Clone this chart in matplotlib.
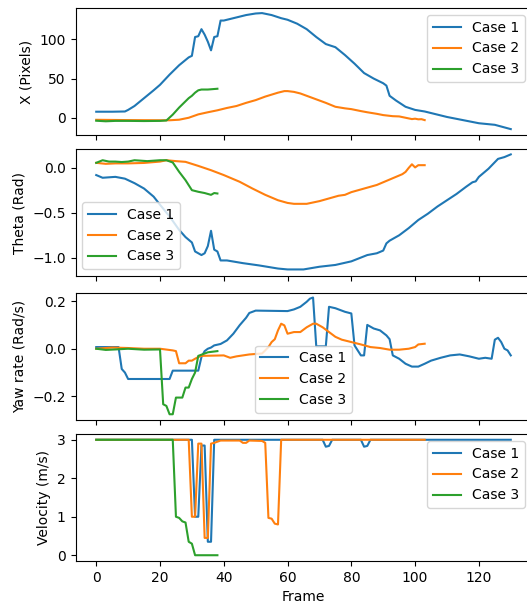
import matplotlib
matplotlib.use("Agg")
import matplotlib.pyplot as plt

labels = ["Case 1", "Case 2", "Case 3"]

# ---- X (Pixels) ----
x_c1_f = [0, 5, 9, 10, 12, 15, 18, 20, 23, 26, 29, 30, 31, 32, 33, 34, 35, 36, 37, 38, 39, 40, 42, 44, 47, 50, 52, 55, 58, 60, 63, 66, 69, 72, 75, 78, 81, 84, 87, 90, 91, 92, 94, 97, 100, 103, 106, 110, 115, 120, 125, 130]
x_c1_v = [7.7, 7.7, 8, 10, 15, 25, 35, 42, 55, 67, 77, 79, 103, 104, 113, 106, 97, 86, 103, 104, 124, 124, 126, 128, 131, 133, 133.5, 131, 127, 125, 120, 113, 103, 94, 90, 80, 69, 57, 50, 44, 41, 28, 22, 14, 10, 8, 5, 1, -3, -7, -9, -14.5]
x_c2_f = [0, 10, 20, 23, 26, 29, 32, 35, 38, 41, 44, 47, 50, 53, 55, 57, 59, 60, 62, 64, 66, 68, 70, 72, 75, 78, 80, 83, 85, 88, 90, 93, 95, 97, 99, 100, 101, 102, 103]
x_c2_v = [-2.6, -3, -3.2, -3.2, -2.5, 0, 4.3, 7, 9.5, 12.5, 15, 19, 22.5, 27, 29.5, 32, 34, 34, 33, 31, 28, 25, 22, 19, 14, 12, 11, 8.5, 7, 5, 3.4, 2, 1.7, 0, -1.7, -1.2, -2, -1.8, -3]
x_c3_f = [0, 3, 6, 10, 15, 20, 22, 24, 26, 28, 29, 30, 31, 32, 33, 35, 38]
x_c3_v = [-3.8, -4.5, -4, -4, -4.2, -4, -3.5, 4, 13, 21, 25, 28, 32, 35, 36, 36, 37]

# ---- Theta (Rad) ----
t_c1_f = [0, 2, 6, 9, 12, 15, 18, 20, 23, 26, 28, 30, 31, 33, 34, 35, 36, 37, 38, 39, 41, 46, 51, 57, 60, 65, 70, 75, 80, 85, 88, 90, 91, 92, 95, 98, 101, 104, 107, 110, 113, 116, 118, 119, 120, 123, 126, 128, 130]
t_c1_v = [-0.08, -0.11, -0.10, -0.12, -0.17, -0.23, -0.32, -0.41, -0.54, -0.69, -0.77, -0.83, -0.93, -0.97, -0.95, -0.87, -0.70, -0.91, -0.93, -1.03, -1.03, -1.06, -1.085, -1.12, -1.13, -1.13, -1.10, -1.08, -1.04, -0.97, -0.95, -0.92, -0.84, -0.81, -0.75, -0.67, -0.58, -0.51, -0.43, -0.36, -0.29, -0.21, -0.16, -0.15, -0.10, -0.01, 0.10, 0.12, 0.15]
t_c2_f = [0, 3, 6, 10, 15, 20, 22, 25, 28, 32, 36, 40, 45, 49, 53, 57, 60, 62, 64, 66, 68, 70, 72, 74, 76, 78, 80, 82, 84, 86, 88, 90, 92, 94, 96, 97, 98, 99, 100, 101, 103]
t_c2_v = [0.056, 0.045, 0.05, 0.05, 0.055, 0.07, 0.085, 0.075, 0.067, 0.022, -0.026, -0.08, -0.155, -0.23, -0.30, -0.36, -0.39, -0.40, -0.40, -0.40, -0.385, -0.37, -0.35, -0.33, -0.31, -0.30, -0.27, -0.25, -0.23, -0.21, -0.19, -0.16, -0.13, -0.10, -0.07, -0.045, 0.0, 0.04, 0.005, 0.03, 0.03]
t_c3_f = [0, 2, 4, 6, 8, 10, 12, 14, 16, 18, 20, 22, 24, 26, 28, 30, 32, 34, 36, 37, 38]
t_c3_v = [0.056, 0.085, 0.07, 0.07, 0.065, 0.07, 0.085, 0.08, 0.075, 0.08, 0.085, 0.085, 0.06, -0.044, -0.137, -0.248, -0.266, -0.28, -0.30, -0.28, -0.285]

# ---- Yaw rate (Rad/s) ----
y_c1_f = [0, 7, 8, 9, 10, 23, 24, 32, 33, 34, 35, 36, 37, 39, 41, 43, 45, 47, 48, 50, 60, 62, 64, 66, 67, 68, 69, 72, 73, 75, 78, 80, 81, 82, 83, 84, 85, 87, 89, 91, 92, 93, 95, 97, 99, 101, 103, 105, 108, 111, 114, 117, 120, 122, 124, 125, 126, 127, 128, 129, 130]
y_c1_v = [0.007, 0.007, -0.085, -0.10, -0.127, -0.127, -0.092, -0.092, -0.035, -0.01, 0.0, 0.005, 0.014, 0.02, 0.035, 0.063, 0.099, 0.13, 0.15, 0.16, 0.158, 0.165, 0.176, 0.197, 0.21, 0.215, 0.01, 0.01, 0.176, 0.17, 0.155, 0.148, 0.014, -0.007, -0.028, -0.028, 0.10, 0.085, 0.077, 0.056, 0.04, -0.028, -0.042, -0.063, -0.075, -0.075, -0.063, -0.05, -0.038, -0.028, -0.024, -0.032, -0.042, -0.038, -0.042, 0.038, 0.046, 0.028, 0.0, -0.007, -0.028]
y_c2_f = [0, 5, 10, 15, 20, 24, 25, 26, 28, 29, 30, 31, 32, 33, 40, 42, 44, 46, 48, 52, 53, 54, 55, 56, 57, 58, 59, 60, 62, 64, 66, 68, 69, 71, 73, 75, 77, 80, 83, 86, 89, 92, 95, 98, 100, 101, 103]
y_c2_v = [0.0, 0.005, 0.003, 0.0, 0.0, -0.007, -0.01, -0.061, -0.061, -0.05, -0.05, -0.042, -0.035, -0.03, -0.028, -0.038, -0.032, -0.028, -0.024, -0.02, -0.007, 0.007, 0.028, 0.04, 0.077, 0.105, 0.098, 0.063, 0.07, 0.07, 0.09, 0.105, 0.105, 0.09, 0.07, 0.05, 0.038, 0.028, 0.018, 0.007, 0.003, -0.004, -0.004, 0.0, 0.007, 0.018, 0.021]
y_c3_f = [0, 3, 6, 10, 15, 20, 21, 22, 23, 24, 25, 27, 28, 29, 30, 31, 32, 33, 35, 38]
y_c3_v = [0.0, -0.005, -0.003, 0.0, -0.004, -0.003, -0.233, -0.24, -0.275, -0.275, -0.205, -0.205, -0.163, -0.163, -0.127, -0.10, -0.03, -0.025, -0.015, -0.01]

# ---- Velocity (m/s) ----
v_c1_f = [0, 30, 31, 32, 33, 34, 35, 36, 37, 71, 72, 73, 74, 83, 84, 85, 86, 130]
v_c1_v = [3.0, 3.0, 1.0, 1.0, 2.85, 2.85, 0.35, 0.35, 3.0, 3.0, 2.82, 2.84, 3.0, 3.0, 2.82, 2.84, 3.0, 3.0]
v_c2_f = [0, 29, 30, 31, 32, 33, 34, 35, 36, 37, 38, 39, 45, 46, 47, 48, 52, 53, 54, 55, 56, 57, 58, 103]
v_c2_v = [3.0, 3.0, 1.0, 1.0, 2.9, 2.9, 0.45, 0.45, 2.9, 2.92, 2.95, 2.98, 2.98, 2.92, 2.92, 2.98, 2.97, 2.92, 0.97, 0.95, 0.82, 0.8, 3.0, 3.0]
v_c3_f = [0, 24, 25, 26, 27, 28, 29, 30, 31, 38]
v_c3_v = [3.0, 3.0, 1.0, 0.97, 0.88, 0.85, 0.35, 0.3, 0.0, 0.0]

panels = [
    ("X (Pixels)", [(x_c1_f, x_c1_v), (x_c2_f, x_c2_v), (x_c3_f, x_c3_v)], "upper right", (-22, 140)),
    ("Theta (Rad)", [(t_c1_f, t_c1_v), (t_c2_f, t_c2_v), (t_c3_f, t_c3_v)], "lower left", (-1.203, 0.21)),
    ("Yaw rate (Rad/s)", [(y_c1_f, y_c1_v), (y_c2_f, y_c2_v), (y_c3_f, y_c3_v)], "lower center", (-0.297, 0.236)),
    ("Velocity (m/s)", [(v_c1_f, v_c1_v), (v_c2_f, v_c2_v), (v_c3_f, v_c3_v)], "upper right", (-0.15, 3.15)),
]

W, H = 527, 603
fig = plt.figure(figsize=(W / 100, H / 100), dpi=100)
tops = [8, 149, 292.5, 434]
ph = 127
left = 75.5 / W
width = 456 / W
axes = []
for i, top in enumerate(tops):
    bottom = 1 - (top + ph) / H
    ax = fig.add_axes([left, bottom, width, ph / H], sharex=axes[0] if axes else None)
    axes.append(ax)

for ax, (ylabel, series, loc, ylim) in zip(axes, panels):
    for (f, v), lab in zip(series, labels):
        ax.plot(f, v, label=lab, lw=1.5)
    ax.set_ylabel(ylabel)
    ax.set_ylim(*ylim)
    ax.legend(loc=loc)

axes[0].set_xlim(-6.5, 136.5)
for ax in axes[:-1]:
    ax.tick_params(labelbottom=False)
axes[-1].set_xlabel("Frame")
axes[-1].set_xticks([0, 20, 40, 60, 80, 100, 120])

fig.savefig("out.png", dpi=100)
